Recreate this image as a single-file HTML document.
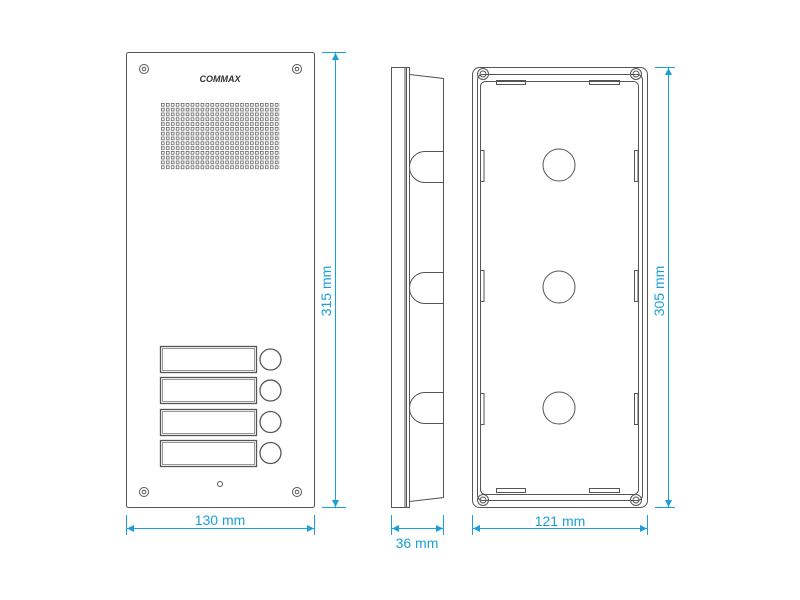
<!DOCTYPE html>
<html><head><meta charset="utf-8"><style>body{margin:0;background:#fff}svg{display:block}</style></head><body>
<svg width="800" height="600" viewBox="0 0 800 600" xmlns="http://www.w3.org/2000/svg">
<defs>
<pattern id="g" x="161" y="103" width="4.95" height="4.8" patternUnits="userSpaceOnUse">
<rect x="0.4" y="0.4" width="2.8" height="2.8" fill="none" stroke="#666" stroke-width="0.8"/>
</pattern>
<marker id="a" viewBox="0 0 10 10" refX="10" refY="5" markerWidth="9" markerHeight="7" orient="auto-start-reverse" markerUnits="userSpaceOnUse"><path d="M0,0 L10,5 L0,10z" fill="#1a9fd8"/></marker>
</defs>
<g fill="none" stroke="#555" stroke-width="1">
<!-- front panel -->
<rect x="126.5" y="52.5" width="188" height="455" rx="2"/>
<circle cx="144" cy="69" r="4.5"/><circle cx="144" cy="69" r="1.8"/>
<circle cx="297" cy="69" r="4.5"/><circle cx="297" cy="69" r="1.8"/>
<circle cx="144" cy="492" r="4.5"/><circle cx="144" cy="492" r="1.8"/>
<circle cx="297" cy="492" r="4.5"/><circle cx="297" cy="492" r="1.8"/>
<circle cx="220" cy="484" r="2.5"/>
<rect x="161" y="103" width="119" height="67" fill="url(#g)" stroke="none"/>
<g stroke-width="1.3">
<rect x="160.5" y="346.5" width="96" height="26"/><rect x="162.5" y="348.5" width="92" height="22" stroke-width="0.6"/>
<rect x="160.5" y="377.5" width="96" height="26"/><rect x="162.5" y="379.5" width="92" height="22" stroke-width="0.6"/>
<rect x="160.5" y="409.5" width="96" height="26"/><rect x="162.5" y="411.5" width="92" height="22" stroke-width="0.6"/>
<rect x="160.5" y="440.5" width="96" height="26"/><rect x="162.5" y="442.5" width="92" height="22" stroke-width="0.6"/>
<circle cx="270.5" cy="359.5" r="10.5"/><circle cx="270.5" cy="390.5" r="10.5"/>
<circle cx="270.5" cy="422" r="10.5"/><circle cx="270.5" cy="453" r="10.5"/>
</g>
<!-- side view -->
<rect x="391.5" y="67.5" width="15" height="440"/>
<line x1="405" y1="67" x2="405" y2="507"/>
<rect x="406.5" y="67.5" width="3" height="440"/>
<path d="M409.5 74.5 L443.5 78.5 L443.5 497.5 L409.5 501.5"/>
<path d="M443.5 151.5 H425 a15.5 15.5 0 0 0 0 31 H443.5"/>
<path d="M443.5 272.5 H425 a15.5 15.5 0 0 0 0 31 H443.5"/>
<path d="M443.5 392.5 H425 a15.5 15.5 0 0 0 0 31 H443.5"/>
<!-- back box -->
<rect x="472.5" y="67.5" width="175" height="440" rx="7"/>
<rect x="477.5" y="74.5" width="165" height="426" rx="5"/>
<rect x="480.5" y="81.5" width="158" height="413" rx="5"/>
<circle cx="483" cy="74" r="5.5"/><circle cx="483" cy="74" r="3"/>
<circle cx="636" cy="74" r="5.5"/><circle cx="636" cy="74" r="3"/>
<circle cx="483" cy="500" r="5.5"/><circle cx="483" cy="500" r="3"/>
<circle cx="636" cy="500" r="5.5"/><circle cx="636" cy="500" r="3"/>
<rect x="496.5" y="80.5" width="29" height="4"/><rect x="589.5" y="80.5" width="30" height="4"/>
<rect x="496.5" y="488.5" width="29" height="4"/><rect x="589.5" y="488.5" width="30" height="4"/>
<rect x="480.5" y="150.5" width="3.5" height="31"/><rect x="634.5" y="150.5" width="3.5" height="31"/>
<rect x="480.5" y="270.5" width="3.5" height="31"/><rect x="634.5" y="270.5" width="3.5" height="31"/>
<rect x="480.5" y="393.5" width="3.5" height="31"/><rect x="634.5" y="393.5" width="3.5" height="31"/>
<circle cx="559" cy="165" r="16"/><circle cx="559" cy="287" r="16"/><circle cx="559" cy="408" r="16"/>
</g>
<text x="220" y="82" font-family="Liberation Sans, sans-serif" font-weight="bold" font-style="italic" font-size="9" text-anchor="middle" fill="#333">COMMAX</text>
<!-- dimensions -->
<g stroke="#1a9fd8" stroke-width="1" fill="none">
<line x1="322" y1="52.5" x2="346" y2="52.5"/><line x1="322" y1="507.5" x2="346" y2="507.5"/>
<line x1="335.5" y1="53" x2="335.5" y2="507" marker-start="url(#a)" marker-end="url(#a)"/>
<line x1="655" y1="67.5" x2="675" y2="67.5"/><line x1="655" y1="507.5" x2="675" y2="507.5"/>
<line x1="668.5" y1="68" x2="668.5" y2="507" marker-start="url(#a)" marker-end="url(#a)"/>
<line x1="126.5" y1="515" x2="126.5" y2="535"/><line x1="314.5" y1="515" x2="314.5" y2="535"/>
<line x1="127" y1="528.5" x2="314" y2="528.5" marker-start="url(#a)" marker-end="url(#a)"/>
<line x1="391.5" y1="515" x2="391.5" y2="535"/><line x1="443.5" y1="515" x2="443.5" y2="535"/>
<line x1="392" y1="528.5" x2="443" y2="528.5" marker-start="url(#a)" marker-end="url(#a)"/>
<line x1="472.5" y1="515" x2="472.5" y2="535"/><line x1="647.5" y1="515" x2="647.5" y2="535"/>
<line x1="473" y1="528.5" x2="647" y2="528.5" marker-start="url(#a)" marker-end="url(#a)"/>
</g>
<g font-family="Liberation Sans, sans-serif" font-size="14" fill="#1a9fd8" text-anchor="middle">
<text x="220" y="525">130 mm</text>
<text x="417" y="548">36 mm</text>
<text x="560" y="526">121 mm</text>
<text transform="translate(331,291) rotate(-90)">315 mm</text>
<text transform="translate(664,291) rotate(-90)">305 mm</text>
</g>
</svg>
</body></html>
